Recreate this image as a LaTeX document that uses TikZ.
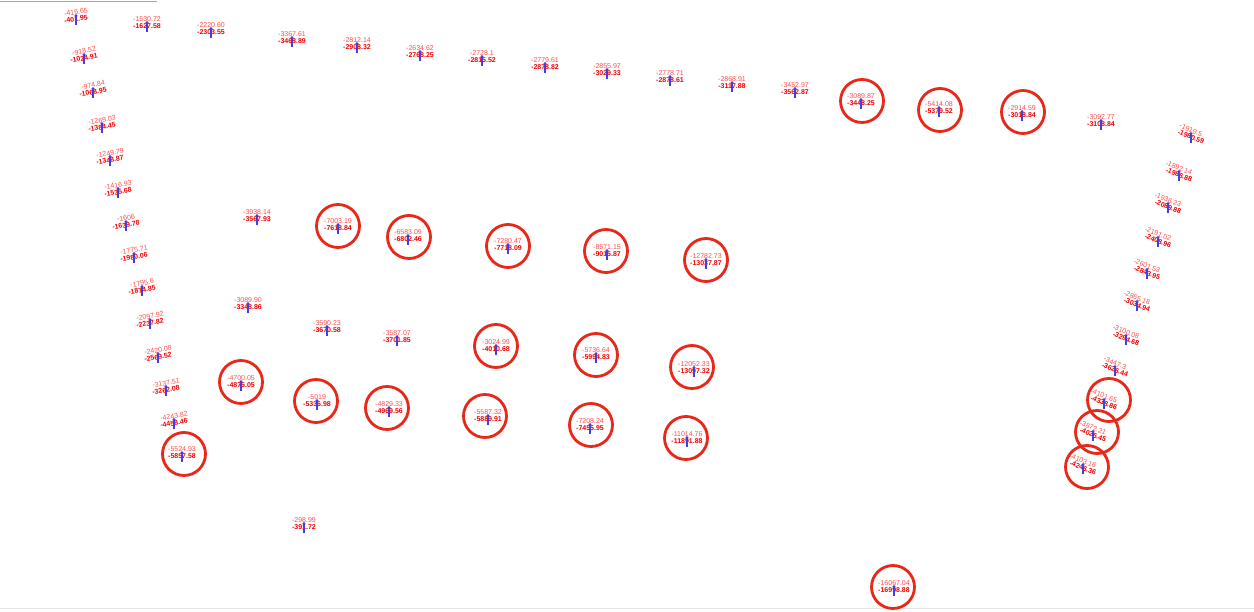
\documentclass[tikz,border=0pt]{standalone}
\usepackage{fontspec}
\setmainfont{Liberation Sans}
\usetikzlibrary{arrows.meta}
\definecolor{stemblue}{RGB}{70,60,225}
\definecolor{ringred}{RGB}{232,40,25}
\tikzset{
  lbltop/.style={text=red!70!white, font=\fontsize{7}{8}\selectfont, inner sep=0pt},
  lblbot/.style={text=red!95!black, font=\fontsize{7}{8}\selectfont\bfseries, inner sep=0pt},
  stem/.style={draw=stemblue, line width=1.7pt, -{Triangle[length=2.2pt,width=3.6pt]}},
  ring/.style={draw=ringred, line width=2.8pt, circle, minimum size=43pt, inner sep=0pt},
  edge/.style={draw=black!35, line width=0.8pt},
}
\newcommand\mk[6]{%
  \node[lbltop, rotate=#4] (#1t) at (#2,#3-6) {#5};
  \node[lblbot, rotate=#4] (#1b) at (#2,#3+1) {#6};
  \coordinate (#1a) at (#2,#3+7);
  \coordinate (#1z) at (#2,#3-4);
  \draw[stem] (#1a) -- (#1z);
}
\newcommand\rg[3]{\node[ring] (#1) at (#2,#3) {};}
\begin{document}
\begin{tikzpicture}[x=1pt,y=-1pt]
\fill[white] (0,0) rectangle (1254,612);
\useasboundingbox (0,0) rectangle (1254,612);
\coordinate (tl) at (0,1);
\coordinate (tr) at (157,1);
\draw[edge] (tl) -- (tr);
\coordinate (bl) at (0,608);
\coordinate (br) at (1254,608);
\draw[draw=black!10, line width=0.6pt] (bl) -- (br);
% top row
\mk{p1}{76}{18}{8}{-416.65}{-401.95}
\mk{p2}{147}{25}{0}{-1530.72}{-1627.58}
\mk{p3}{211}{31}{0}{-2220.60}{-2303.55}
\mk{p4}{292}{40}{0}{-3367.61}{-3468.89}
\mk{p5}{357}{46}{0}{-2812.14}{-2908.32}
\mk{p6}{420}{54}{0}{-2634.62}{-2768.25}
\mk{p7}{482}{59}{0}{-2728.1}{-2815.52}
\mk{p8}{545}{66}{0}{-2779.61}{-2878.82}
\mk{p9}{607}{72}{0}{-2855.97}{-3029.33}
\mk{p10}{670}{79}{0}{-2778.71}{-2878.61}
\mk{p11}{732}{85}{0}{-2868.91}{-3117.88}
\mk{p12}{795}{91}{0}{-3452.97}{-3562.87}
\mk{p13}{861}{102}{0}{-3089.87}{-3448.25}
\mk{p14}{939}{110}{0}{-5414.08}{-5379.52}
\mk{p15}{1022}{114}{0}{-2914.59}{-3018.84}
\mk{p16}{1101}{123}{0}{-3092.77}{-3108.84}
\mk{p17}{1191}{136}{-22}{-1919.5}{-1980.59}
% left column
\mk{p18}{84}{57}{10}{-918.52}{-1024.91}
\mk{p19}{93}{91}{10}{-974.84}{-1068.95}
\mk{p20}{102}{126}{10}{-1269.03}{-1384.45}
\mk{p21}{110}{159}{10}{-1249.79}{-1348.87}
\mk{p22}{118}{191}{10}{-1416.93}{-1535.68}
\mk{p23}{126}{224}{10}{-1606}{-1639.78}
\mk{p24}{134}{256}{10}{-1775.71}{-1980.06}
\mk{p25}{142}{289}{10}{-1795.6}{-1874.85}
\mk{p26}{150}{322}{10}{-2097.92}{-2237.82}
\mk{p27}{158}{356}{10}{-2420.08}{-2569.52}
\mk{p28}{166}{389}{10}{-3137.51}{-3262.08}
\mk{p29}{174}{422}{10}{-4243.82}{-4458.46}
\mk{p30}{182}{455}{0}{-5524.93}{-5857.58}
% inner grid
\mk{p31}{257}{218}{0}{-3938.14}{-3567.93}
\mk{p32}{338}{227}{0}{-7003.19}{-7618.84}
\mk{p33}{408}{238}{0}{-6583.09}{-6802.46}
\mk{p34}{508}{247}{0}{-7280.47}{-7718.09}
\mk{p35}{607}{253}{0}{-8571.15}{-9015.87}
\mk{p36}{706}{262}{0}{-12782.73}{-13037.87}
\mk{p37}{248}{306}{0}{-3089.90}{-3348.86}
\mk{p38}{327}{329}{0}{-3590.23}{-3670.58}
\mk{p39}{397}{339}{0}{-3587.07}{-3701.85}
\mk{p40}{496}{348}{0}{-3024.99}{-4010.68}
\mk{p41}{596}{356}{0}{-5736.64}{-5994.83}
\mk{p42}{694}{370}{0}{-12052.33}{-13097.32}
\mk{p43}{241}{384}{0}{-4700.05}{-4875.05}
\mk{p44}{317}{403}{0}{-5019}{-5336.98}
\mk{p45}{389}{410}{0}{-4829.33}{-4969.56}
\mk{p46}{488}{418}{0}{-5587.32}{-5889.91}
\mk{p47}{590}{427}{0}{-7208.24}{-7455.95}
\mk{p48}{687}{440}{0}{-11014.76}{-11891.88}
\mk{p49}{304}{526}{0}{-298.99}{-391.72}
\mk{p50}{894}{589}{0}{-16067.04}{-16998.88}
% right column
\mk{p51}{1179}{174}{-22}{-1892.14}{-1986.88}
\mk{p52}{1168}{206}{-22}{-1936.23}{-2089.88}
\mk{p53}{1158}{240}{-22}{-2191.02}{-2408.96}
\mk{p54}{1147}{272}{-22}{-2601.53}{-2843.95}
\mk{p55}{1137}{304}{-22}{-2865.18}{-3034.94}
\mk{p56}{1126}{338}{-22}{-3100.08}{-3294.68}
\mk{p57}{1115}{369}{-22}{-3447.3}{-3626.44}
\mk{p58}{1104}{402}{-22}{-4101.65}{-4338.86}
\mk{p59}{1093}{434}{-22}{-3872.21}{-4025.45}
\mk{p60}{1083}{467}{-22}{-4103.16}{-4246.36}
% rings
\rg{c13}{862}{101}
\rg{c14}{940}{110}
\rg{c15}{1023}{112}
\rg{c30}{184}{454}
\rg{c32}{338}{226}
\rg{c33}{409}{237}
\rg{c34}{508}{246}
\rg{c35}{606}{251}
\rg{c36}{706}{260}
\rg{c40}{496}{346}
\rg{c41}{596}{355}
\rg{c42}{692}{367}
\rg{c43}{241}{382}
\rg{c44}{316}{401}
\rg{c45}{387}{408}
\rg{c46}{485}{416}
\rg{c47}{591}{425}
\rg{c48}{686}{438}
\rg{c50}{893}{587}
\rg{c58}{1109}{400}
\rg{c59}{1097}{432}
\rg{c60}{1087}{467}
\end{tikzpicture}
\end{document}
